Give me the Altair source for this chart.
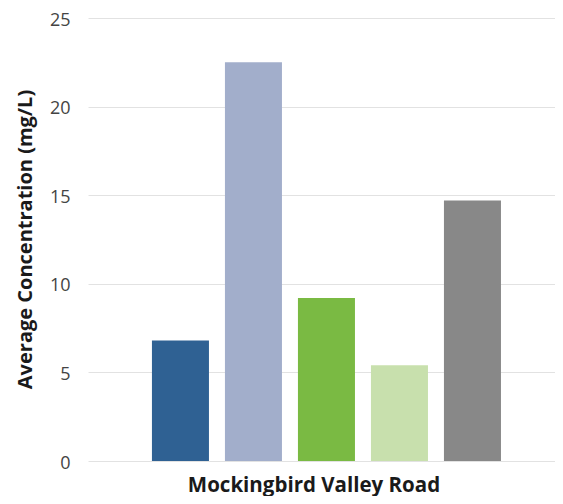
import altair as alt
import pandas as pd

series = ["Series 1", "Series 2", "Series 3", "Series 4", "Series 5"]
values = [6.8, 22.5, 9.2, 5.4, 14.7]
colors = ["#2f6193", "#a2aecb", "#7aba43", "#c8e0ad", "#888888"]
site = "Mockingbird Valley Road"
y_title = "Average Concentration (mg/L)"
y_ticks = [0, 5, 10, 15, 20, 25]

df = pd.DataFrame({"series": series, "value": values})

FONT = "Open Sans"

chart = alt.Chart(df).mark_bar().encode(
    x=alt.X(
        "series:N",
        sort=series,
        scale=alt.Scale(paddingInner=0.219, paddingOuter=0.808, align=0.542),
        axis=alt.Axis(
            title=site, labels=False, ticks=False, domain=False, grid=False,
            titleFont=FONT, titleFontSize=20.5, titleFontWeight="bold",
            titleColor="#1a1a1a", titleX=225.5, titleY=30,
            titleAlign="center", titleBaseline="alphabetic",
        ),
    ),
    y=alt.Y(
        "value:Q",
        scale=alt.Scale(domain=[0, 25], nice=False),
        axis=alt.Axis(
            values=y_ticks, title=y_title, ticks=False, domain=False,
            grid=True, gridColor="#e2e2e2", gridWidth=1,
            labelFont=FONT, labelFontSize=18, labelColor="#444444",
            labelPadding=18, labelOffset=2,
            titleFont=FONT, titleFontSize=20, titleFontWeight="bold",
            titleColor="#1a1a1a", titleX=-63, titleY=221, titleAngle=270,
            titleAlign="center", titleBaseline="middle",
        ),
    ),
    color=alt.Color("series:N", scale=alt.Scale(domain=series, range=colors), legend=None),
).properties(
    width=467, height=443,
    autosize=alt.AutoSizeParams(type="none"),
    padding={"left": 80, "top": 10, "right": 0, "bottom": 35},
).configure_view(stroke=None)

chart.save("out.html", embed_options={"renderer": "svg", "actions": False})
